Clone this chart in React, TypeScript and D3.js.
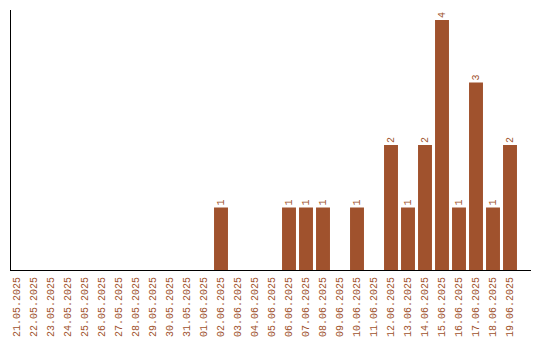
import React from "react";
import * as d3 from "d3";

const dates = [
  "21.05.2025", "22.05.2025", "23.05.2025", "24.05.2025", "25.05.2025", "26.05.2025",
  "27.05.2025", "28.05.2025", "29.05.2025", "30.05.2025", "31.05.2025", "01.06.2025",
  "02.06.2025", "03.06.2025", "04.06.2025", "05.06.2025", "06.06.2025", "07.06.2025",
  "08.06.2025", "09.06.2025", "10.06.2025", "11.06.2025", "12.06.2025", "13.06.2025",
  "14.06.2025", "15.06.2025", "16.06.2025", "17.06.2025", "18.06.2025", "19.06.2025",
];
const counts = [
  0, 0, 0, 0, 0, 0, 0, 0, 0, 0, 0, 0,
  1, 0, 0, 0, 1, 1, 1, 0, 1, 0, 2, 1, 2, 4, 1, 3, 1, 2,
];

const W = 540;
const H = 340;
const COLOR = "#a0522d";
const FONT = "'Liberation Mono', monospace";

export default function App() {
  const x = d3
    .scaleBand<string>()
    .domain(dates)
    .range([8.5, 518.5])
    .paddingInner(0.18)
    .paddingOuter(0.09);
  const y = d3.scaleLinear().domain([0, 4]).range([270, 20]);
  const baseY = y(0);

  return (
    <svg
      width={W}
      height={H}
      style={{ position: "absolute", left: 0, top: 0, background: "#fff" }}
    >
      {dates.map((d, i) => {
        const v = counts[i];
        const bx = x(d) as number;
        const cx = bx + x.bandwidth() / 2;
        return (
          <g key={d}>
            {v > 0 && (
              <rect
                x={bx}
                y={y(v)}
                width={x.bandwidth()}
                height={baseY - y(v)}
                fill={COLOR}
              />
            )}
            {v > 0 && (
              <text
                transform={`translate(${cx},${y(v) - 2}) rotate(-90)`}
                fontFamily={FONT}
                fontSize={10}
                fill={COLOR}
                textAnchor="start"
                dominantBaseline="central"
              >
                {v}
              </text>
            )}
            <text
              transform={`translate(${cx},${baseY + 7}) rotate(-90)`}
              fontFamily={FONT}
              fontSize={10}
              fill={COLOR}
              textAnchor="end"
              dominantBaseline="central"
            >
              {d}
            </text>
          </g>
        );
      })}
      <line x1={10.5} x2={10.5} y1={10} y2={baseY} stroke="#000" strokeWidth={1} />
      <line x1={10} x2={531} y1={baseY + 0.5} y2={baseY + 0.5} stroke="#000" strokeWidth={1} />
    </svg>
  );
}
